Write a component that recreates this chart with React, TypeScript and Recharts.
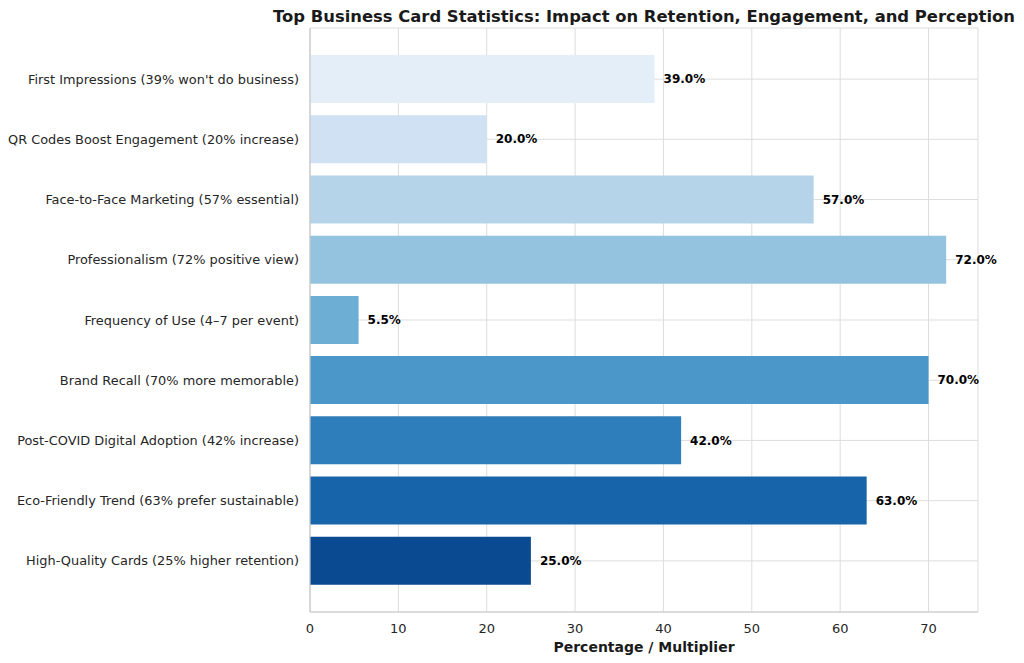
import { BarChart, Bar, XAxis, YAxis, CartesianGrid, Cell, LabelList, Label } from "recharts";

const categories = [
  "First Impressions (39% won't do business)",
  "QR Codes Boost Engagement (20% increase)",
  "Face-to-Face Marketing (57% essential)",
  "Professionalism (72% positive view)",
  "Frequency of Use (4–7 per event)",
  "Brand Recall (70% more memorable)",
  "Post-COVID Digital Adoption (42% increase)",
  "Eco-Friendly Trend (63% prefer sustainable)",
  "High-Quality Cards (25% higher retention)",
];

const values = [39, 20, 57, 72, 5.5, 70, 42, 63, 25];

const barColors = [
  "#e3eef9",
  "#cfe1f2",
  "#b5d4e9",
  "#93c3df",
  "#6daed5",
  "#4b97c9",
  "#2f7ebc",
  "#1864aa",
  "#0a4a90",
];

const xTicks = [0, 10, 20, 30, 40, 50, 60, 70];

const data = categories.map((name, i) => ({ name, value: values[i] }));

const FONT = "'DejaVu Sans', sans-serif";

export default function App() {
  return (
    <div style={{ position: "absolute", left: 0, top: 0, width: 1024, height: 663, background: "#fff", fontFamily: FONT }}>
      <div
        style={{
          position: "absolute",
          left: 310,
          width: 668,
          top: 7,
          fontSize: 16.4,
          fontWeight: "bold",
          color: "#1a1a1a",
          whiteSpace: "nowrap",
          display: "flex",
          justifyContent: "center",
        }}
      >
        Top Business Card Statistics: Impact on Retention, Engagement, and Perception
      </div>
      <BarChart
        width={1024}
        height={663}
        data={data}
        layout="vertical"
        margin={{ top: 28, right: 46, left: 0, bottom: 0 }}
      >
        <CartesianGrid stroke="#dddddd" strokeWidth={1} />
        <XAxis
          type="number"
          domain={[0, 75.6]}
          ticks={xTicks}
          height={51}
          tickSize={0}
          tickMargin={12}
          axisLine={{ stroke: "#c8c8c8", strokeWidth: 1.2 }}
          tick={{ fill: "#262626", fontSize: 13, fontFamily: FONT }}
        >
          <Label
            value="Percentage / Multiplier"
            position="insideBottom"
            offset={11}
            style={{ fill: "#1a1a1a", fontSize: 14, fontWeight: "bold", fontFamily: FONT }}
          />
        </XAxis>
        <XAxis
          xAxisId="top"
          orientation="top"
          type="number"
          domain={[0, 75.6]}
          height={0}
          tick={false}
          tickSize={0}
          axisLine={{ stroke: "#c8c8c8", strokeWidth: 1.2 }}
        />
        <YAxis
          type="category"
          dataKey="name"
          width={310}
          padding={{ top: 21, bottom: 21 }}
          tickSize={0}
          tickMargin={11}
          interval={0}
          axisLine={{ stroke: "#c8c8c8", strokeWidth: 1.2 }}
          tick={{ fill: "#262626", fontSize: 12.9, fontFamily: FONT }}
        />
        <YAxis
          yAxisId="right"
          orientation="right"
          type="category"
          dataKey="name"
          width={0}
          tick={false}
          tickSize={0}
          axisLine={{ stroke: "#c8c8c8", strokeWidth: 1.2 }}
        />
        <Bar dataKey="value" barSize={48} isAnimationActive={false}>
          {data.map((d, i) => (
            <Cell key={d.name} fill={barColors[i]} />
          ))}
          <LabelList
            dataKey="value"
            position="right"
            offset={9}
            formatter={(v: any) => `${Number(v).toFixed(1)}%`}
            style={{ fill: "#000", fontSize: 12, fontWeight: "bold", fontFamily: FONT }}
          />
        </Bar>
      </BarChart>
    </div>
  );
}
